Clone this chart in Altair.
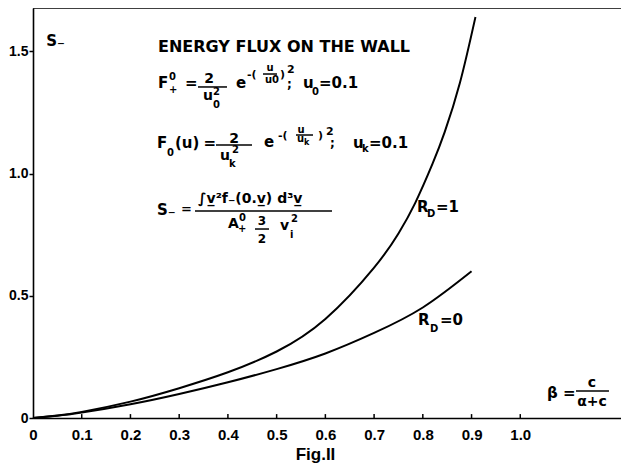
import altair as alt
import pandas as pd

# ---- data ----
beta_rd1 = [0, 0.05, 0.1, 0.2, 0.3, 0.4, 0.5, 0.6, 0.7, 0.75, 0.784, 0.82, 0.845, 0.876, 0.908]
s_rd1 = [0, 0.010, 0.025, 0.067, 0.122, 0.187, 0.272, 0.405, 0.615, 0.755, 0.878, 1.04, 1.17, 1.37, 1.64]
beta_rd0 = [0, 0.05, 0.1, 0.2, 0.3, 0.4, 0.5, 0.6, 0.7, 0.8, 0.9]
s_rd0 = [0, 0.009, 0.022, 0.056, 0.098, 0.146, 0.200, 0.264, 0.348, 0.452, 0.60]
x_tick_values = [0, 0.1, 0.2, 0.3, 0.4, 0.5, 0.6, 0.7, 0.8, 0.9, 1.0]
y_tick_values = [0, 0.5, 1.0, 1.5]

XMAX = 1.2067
YMAX = 1.677
FONT = "Liberation Sans Narrow, Liberation Sans, sans-serif"
TFONT = "DejaVu Sans"

curves = pd.concat([
    pd.DataFrame({"beta": beta_rd1, "S": s_rd1, "series": "RD=1"}),
    pd.DataFrame({"beta": beta_rd0, "S": s_rd0, "series": "RD=0"}),
])

xs = alt.Scale(domain=[0, XMAX], nice=False, zero=False)
ys = alt.Scale(domain=[0, YMAX], nice=False, zero=False)

X_AXIS = alt.Axis(
    values=x_tick_values, ticks=False, grid=False, domainColor="black", domainWidth=1.6,
    labelExpr="datum.value == 0 ? '0' : format(datum.value, '.1f')",
    labelFont=FONT, labelFontSize=15, labelFontWeight="bold", labelColor="black",
    labelPadding=9, labelFlush=False,
    title="Fig.II", titleFont=FONT, titleFontSize=17, titleFontWeight="bold", titleColor="black",
    titleX=282, titleY=41, titleBaseline="alphabetic", titleAnchor="start", titleAlign="center")
Y_AXIS = alt.Axis(
    values=y_tick_values, grid=False, domainColor="black", domainWidth=1.6,
    tickColor="black", tickSize=4, tickWidth=1.5,
    labelExpr="datum.value == 0 ? '0' : format(datum.value, '.1f')",
    labelFont=FONT, labelFontSize=14, labelFontWeight="bold", labelColor="black",
    labelPadding=1, title=None)

lines = alt.Chart(curves).mark_line(color="black", strokeWidth=2, interpolate="natural").encode(
    x=alt.X("beta:Q", scale=xs, axis=X_AXIS),
    y=alt.Y("S:Q", scale=ys, axis=Y_AXIS),
    detail="series:N",
)

top_rule = alt.Chart(pd.DataFrame({"a": [0]})).mark_rule(color="black", strokeWidth=1.6).encode(
    x=alt.datum(0, scale=xs, axis=X_AXIS), x2=alt.datum(XMAX),
    y=alt.datum(YMAX, scale=ys, axis=Y_AXIS))

inner_ticks = alt.Chart(pd.DataFrame({"t": x_tick_values[1:]})).mark_rule(color="black", strokeWidth=1.5).encode(
    x=alt.X("t:Q", scale=xs, axis=X_AXIS), y=alt.datum(0, scale=ys, axis=Y_AXIS), y2=alt.datum(0.016))

# annotation texts: (text, beta, S, size)
left_texts = [
    ("S\u208b", 0.027, 1.521, 15),
    ("ENERGY FLUX ON THE WALL", 0.2565, 1.497, 16),
    # F+0 formula
    ("F", 0.2565, 1.3497, 15), ("0", 0.279, 1.3824, 10), ("+", 0.279, 1.329, 10),
    ("=", 0.312, 1.3497, 15),
    ("u", 0.3489, 1.3006, 14), ("2", 0.3694, 1.3211, 10), ("0", 0.3694, 1.268, 10),
    ("e", 0.4166, 1.3497, 15), ("-(", 0.4392, 1.3906, 11),
    ("u0", 0.4761, 1.3701, 10), (")", 0.5069, 1.3906, 11), ("2", 0.5212, 1.411, 11),
    (";", 0.5212, 1.3497, 12),
    ("u", 0.5541, 1.3497, 15), ("0", 0.5725, 1.321, 10), ("=0.1", 0.5869, 1.3497, 15),
    # F0(u) formula
    ("F", 0.2545, 1.1043, 15), ("0", 0.275, 1.0716, 10), ("(u)", 0.2914, 1.1043, 15),
    ("=", 0.350, 1.1043, 15),
    ("u", 0.3837, 1.0552, 14), ("2", 0.4084, 1.0838, 10), ("k", 0.4022, 1.0266, 10),
    ("e", 0.474, 1.1084, 15), ("-(", 0.5028, 1.1411, 11),
    ("u", 0.5418, 1.1288, 10), ("k", 0.5561, 1.1166, 8),
    (")", 0.5848, 1.1411, 11), ("2", 0.6013, 1.1575, 11), (";", 0.6095, 1.1084, 12),
    ("u", 0.6567, 1.1043, 15), ("k", 0.6752, 1.0879, 10), ("=0.1", 0.6895, 1.1043, 15),
    # S- formula
    ("S\u208b", 0.2545, 0.8303, 15), ("=", 0.3037, 0.8384, 13),
    ("\u222bv\u0332\u00b2f\u208b(0.v\u0332) d\u00b3v\u0332", 0.3386, 0.8793, 14),
    ("A", 0.4002, 0.7771, 14), ("0", 0.4227, 0.8057, 10), ("+", 0.4207, 0.7607, 10),
    ("v", 0.5069, 0.7689, 14), ("2", 0.5294, 0.8016, 10), ("i", 0.5274, 0.7362, 10),
    # curve labels
    ("R", 0.788, 0.8425, 15), ("D", 0.8085, 0.8221, 10), ("=1", 0.827, 0.8425, 15),
    ("R", 0.790, 0.3804, 15), ("D", 0.8147, 0.3517, 10), ("=0", 0.8352, 0.3804, 15),
    ("\u03b2 =", 1.0548, 0.0818, 15),
]
center_texts = [
    ("2", 0.3612, 1.370, 14),
    ("u", 0.4864, 1.4192, 10),
    ("2", 0.4125, 1.1247, 14),
    ("u", 0.55, 1.1656, 10),
    ("3", 0.4699, 0.7894, 12), ("2", 0.4699, 0.7157, 12),
    ("c", 1.1471, 0.1268, 14), ("\u03b1+c", 1.1471, 0.0491, 14),
]
# fraction bars: (beta_start, beta_end, S)
frac_bars = [
    (0.3386, 0.3981, 1.354), (0.472, 0.5007, 1.407),
    (0.3755, 0.4494, 1.1166), (0.5397, 0.5746, 1.1575),
    (0.3324, 0.6136, 0.8466), (0.4556, 0.4843, 0.773),
    (1.1143, 1.182, 0.1104),
]

def text_df(rows):
    return pd.DataFrame(rows, columns=["text", "bx", "sy", "size"])

def text_layer(rows, align):
    return alt.Chart(text_df(rows)).mark_text(
        align=align, baseline="alphabetic", font=TFONT, color="black", fontWeight="bold").encode(
        x=alt.X("bx:Q", scale=xs, axis=X_AXIS), y=alt.Y("sy:Q", scale=ys, axis=Y_AXIS),
        text="text:N", size=alt.Size("size:Q", scale=None, legend=None))

bars = alt.Chart(pd.DataFrame(frac_bars, columns=["b0", "b1", "s"])).mark_rule(
    color="black", strokeWidth=1.5).encode(
    x=alt.X("b0:Q", scale=xs, axis=X_AXIS), x2="b1:Q", y=alt.Y("s:Q", scale=ys, axis=Y_AXIS))

chart = alt.layer(lines, top_rule, inner_ticks, text_layer(left_texts, "left"),
                  text_layer(center_texts, "center"), bars).properties(
    width=588, height=410,
    autosize=alt.AutoSizeParams(type="none"),
    padding={"left": 25, "top": 0, "right": 0, "bottom": 50},
    background="white",
).configure_view(stroke=None)

chart.save("out.html", embed_options={"renderer": "svg", "actions": False})
